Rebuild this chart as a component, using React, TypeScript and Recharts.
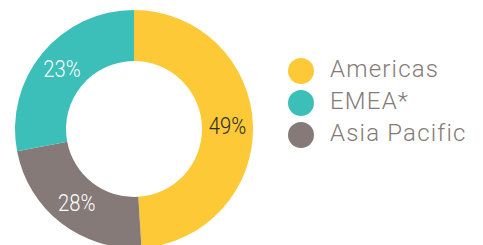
import { PieChart, Pie, Cell } from "recharts";

// slice sizes as drawn in the picture (clockwise from 12 o'clock)
const regions = ["Americas", "Asia Pacific", "EMEA*"];
const shares = [49, 23, 28];
// the label printed on each slice
const sliceLabels = ["49%", "28%", "23%"];
const colors = ["#fdc936", "#857a77", "#3cbfb8"];
const labelColors = ["#2b2b2b", "#ffffff", "#ffffff"];

// legend order in the picture
const legendNames = ["Americas", "EMEA*", "Asia Pacific"];
const legendColors = ["#fdc936", "#3cbfb8", "#857a77"];

const data = regions.map((name, i) => ({ name, value: shares[i] }));

const RADIAN = Math.PI / 180;

const renderLabel = (props: any) => {
  const { cx, cy, midAngle, innerRadius, outerRadius, index } = props;
  const r = (innerRadius + outerRadius) / 2;
  const x = cx + r * Math.cos(-midAngle * RADIAN);
  const y = cy + r * Math.sin(-midAngle * RADIAN);
  return (
    <text
      transform={`translate(${x},${y}) scale(0.88,1)`}
      x={0}
      y={8}
      fill={labelColors[index]}
      textAnchor="middle"
      fontSize={23}
      fontWeight={300}
      fontFamily="Roboto, sans-serif"
    >
      {sliceLabels[index]}
    </text>
  );
};

export default function App() {
  return (
    <div
      style={{
        position: "absolute",
        left: 0,
        top: 0,
        width: 483,
        height: 245,
        background: "#fff",
        overflow: "hidden",
      }}
    >
      <PieChart
        width={483}
        height={245}
        margin={{ top: 0, right: 0, bottom: 0, left: 0 }}
      >
        <Pie
          data={data}
          dataKey="value"
          cx={134}
          cy={129}
          innerRadius={68}
          outerRadius={119}
          startAngle={90}
          endAngle={-270}
          stroke="none"
          label={renderLabel}
          labelLine={false}
          isAnimationActive={false}
        >
          {data.map((d, i) => (
            <Cell key={d.name} fill={colors[i]} />
          ))}
        </Pie>
      </PieChart>
      {legendNames.map((name, i) => (
        <div key={name}>
          <span
            style={{
              position: "absolute",
              left: 288,
              top: 58 + 32 * i,
              width: 26,
              height: 26,
              borderRadius: "50%",
              background: legendColors[i],
            }}
          />
          <span
            style={{
              position: "absolute",
              left: 330,
              top: 52.5 + 32 * i,
              fontFamily: "Roboto, sans-serif",
              fontWeight: 300,
              fontSize: 24,
              letterSpacing: 1.2,
              color: "#857a77",
              lineHeight: "32px",
              whiteSpace: "nowrap",
            }}
          >
            {name}
          </span>
        </div>
      ))}
    </div>
  );
}
